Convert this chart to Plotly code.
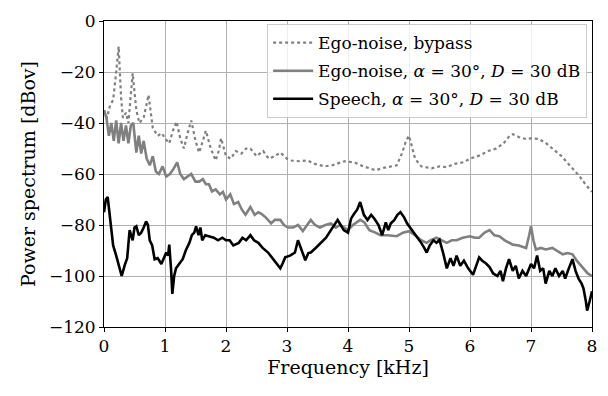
import plotly.graph_objects as go

# ---- data ----
bypass_f = [0, 0.05, 0.1, 0.15, 0.2, 0.24, 0.28, 0.31, 0.36, 0.4, 0.47, 0.53, 0.58, 0.65, 0.73, 0.8,
            0.88, 0.95, 1.0, 1.07, 1.13, 1.19, 1.25, 1.31, 1.37, 1.43, 1.5, 1.56, 1.62, 1.67, 1.75,
            1.83, 1.88, 1.92, 2.0, 2.08, 2.16, 2.25, 2.33, 2.4, 2.5, 2.61, 2.7, 2.8, 2.89, 3.0, 3.07,
            3.2, 3.34, 3.45, 3.62, 3.75, 3.94, 4.1, 4.25, 4.45, 4.6, 4.8, 4.89, 4.95, 5.0, 5.05, 5.1,
            5.2, 5.37, 5.5, 5.62, 5.75, 5.89, 6.0, 6.15, 6.3, 6.43, 6.55, 6.65, 6.7, 6.8, 6.92, 7.0,
            7.13, 7.25, 7.35, 7.5, 7.68, 7.8, 7.89, 8.0]
bypass_db = [-35, -38, -33, -31, -20, -10, -30, -38, -36, -40, -20.5, -35, -40, -38, -29, -42,
             -45, -44, -46, -48, -43, -39.5, -46, -50, -44, -39, -47, -51.6, -47, -43, -50,
             -54.7, -51, -46, -53, -54, -51, -52, -50, -50, -53, -51, -54, -53, -51.6, -54, -54.7,
             -55, -54.7, -56, -57, -56.5, -55, -55.4, -57, -58.5, -57.5, -56.6, -51.6, -47, -45, -49, -54,
             -57, -57.8, -57, -57.3, -56, -55.4, -54, -52.8, -51, -50, -48, -45, -44.4, -45.5, -46.3, -46,
             -46.3, -48, -50, -53, -57.8, -61, -64, -67]

ego_f = [0, 0.04, 0.08, 0.12, 0.16, 0.2, 0.24, 0.28, 0.32, 0.36, 0.4, 0.44, 0.48, 0.53, 0.57, 0.61,
         0.65, 0.7, 0.75, 0.8, 0.85, 0.9, 0.96, 1.02, 1.08, 1.14, 1.2, 1.25, 1.31, 1.37, 1.43, 1.5,
         1.56, 1.62, 1.67, 1.72, 1.77, 1.83, 1.9, 1.95, 2.0, 2.07, 2.13, 2.2, 2.26, 2.32, 2.4, 2.47,
         2.53, 2.58, 2.65, 2.74, 2.8, 2.89, 2.95, 3.02, 3.1, 3.18, 3.26, 3.33, 3.39, 3.46, 3.54, 3.63,
         3.72, 3.8, 3.87, 3.94, 4.0, 4.08, 4.14, 4.2, 4.27, 4.35, 4.45, 4.53, 4.65, 4.8, 4.9, 5.0,
         5.1, 5.2, 5.29, 5.35, 5.45, 5.55, 5.62, 5.7, 5.78, 5.88, 6.0, 6.08, 6.15, 6.24, 6.32, 6.4,
         6.48, 6.57, 6.7, 6.8, 6.92, 6.97, 7.0, 7.04, 7.08, 7.16, 7.24, 7.35, 7.45, 7.52, 7.6, 7.68,
         7.75, 7.85, 7.93, 8.0]
ego_db = [-35, -38, -45, -40, -47, -39, -48, -40, -47, -41, -48, -41, -40, -51.6, -45, -52,
          -47, -54, -56.6, -53, -59, -60, -57, -61, -60, -58, -55.4, -60, -62, -61, -60, -63,
          -63, -62, -64, -64, -66.8, -66, -68, -67, -70, -68, -71.8, -71, -74, -76, -73, -76,
          -75, -75.6, -77, -79.4, -78, -78, -80, -81, -81, -80, -82.4, -80, -78, -80, -81, -80,
          -79.4, -81, -80, -81, -82, -80, -79, -78, -79, -82, -83, -84, -84, -84.4, -83, -82.4,
          -84, -86, -87, -86, -85, -86, -87, -86, -86, -85, -84.4, -85, -85, -83, -82, -84,
          -84.4, -86, -87.7, -88, -89, -84, -80.5, -86, -89.6, -89, -89.6, -89, -90.5, -91.5, -91, -91.5,
          -94, -97, -99, -100]

speech_f = [0, 0.03, 0.06, 0.1, 0.15, 0.2, 0.25, 0.29, 0.34, 0.38, 0.42, 0.45, 0.47, 0.5, 0.53, 0.57,
            0.61, 0.65, 0.69, 0.72, 0.75, 0.79, 0.83, 0.88, 0.94, 0.98, 1.02, 1.05, 1.07, 1.1, 1.12,
            1.15, 1.18, 1.24, 1.29, 1.34, 1.4, 1.44, 1.48, 1.51, 1.55, 1.58, 1.61, 1.66, 1.72, 1.8,
            1.87, 1.94, 2.0, 2.06, 2.12, 2.21, 2.27, 2.33, 2.4, 2.46, 2.53, 2.6, 2.69, 2.76, 2.83,
            2.89, 2.93, 2.97, 3.05, 3.13, 3.18, 3.23, 3.3, 3.35, 3.39, 3.47, 3.56, 3.64, 3.72, 3.78,
            3.83, 3.88, 3.93, 4.0, 4.05, 4.1, 4.15, 4.2, 4.26, 4.32, 4.38, 4.43, 4.5, 4.56, 4.62,
            4.66, 4.7, 4.76, 4.81, 4.86, 4.92, 4.97, 5.05, 5.13, 5.2, 5.25, 5.29, 5.34, 5.4, 5.45,
            5.5, 5.56, 5.62, 5.68, 5.73, 5.78, 5.84, 5.9, 5.97, 6.05, 6.1, 6.15, 6.2, 6.26, 6.32,
            6.38, 6.45, 6.5, 6.54, 6.59, 6.64, 6.7, 6.75, 6.8, 6.86, 6.92, 7.0, 7.05, 7.1, 7.15,
            7.2, 7.24, 7.3, 7.35, 7.4, 7.46, 7.52, 7.56, 7.62, 7.68, 7.73, 7.78, 7.83, 7.86, 7.9,
            7.92, 7.96, 8.0]
speech_db = [-75, -70, -69, -78, -88, -92, -96, -100, -95.7, -93, -82, -84, -86, -81, -80.5, -84,
             -83, -81, -78.6, -80, -86, -88, -93.4, -93, -95.3, -93, -90.8, -92, -87.7, -97.6, -107,
             -100, -97, -95, -93.4, -90, -87, -84, -83, -80.5, -84, -81, -86, -84, -84.4, -85,
             -86, -85, -86, -86, -88, -87, -85, -86, -84, -86, -87, -89, -90.8, -93, -95,
             -97, -95, -92.7, -92, -90.8, -86, -89, -93.8, -91, -90.8, -89, -87, -85, -82, -80,
             -78, -80, -82, -83, -77.5, -75.6, -74, -71, -76, -78, -76, -77.5, -80, -84, -79,
             -82, -79.4, -78, -76, -75, -77, -79.4, -82, -85, -87, -89, -90.8, -88, -86, -87,
             -85.8, -91, -97, -93, -96, -92, -96, -94, -97, -99.5, -96, -92.7, -94, -95, -96.5,
             -99, -100, -98, -102, -97, -93.4, -98, -96, -101, -98, -100, -95.3, -97, -92, -98,
             -97, -103, -98, -100, -97, -100, -98, -101, -97, -93.4, -98, -101, -103, -104.8, -110,
             -113.6, -110, -106]

series_names = ["Ego-noise, bypass",
                "Ego-noise, <i>α</i> = 30°, <i>D</i> = 30 dB",
                "Speech, <i>α</i> = 30°, <i>D</i> = 30 dB"]
x_ticks = [0, 1, 2, 3, 4, 5, 6, 7, 8]
y_ticks = [-120, -100, -80, -60, -40, -20, 0]

FONT = "DejaVu Serif"

fig = go.Figure()
fig.add_trace(go.Scatter(x=bypass_f, y=bypass_db, mode="lines", name=series_names[0],
                         legendgroup="a",
                         line=dict(color="#808080", width=2.2, dash="dot")))
fig.add_trace(go.Scatter(x=ego_f, y=ego_db, mode="lines", name=series_names[1],
                         legendgroup="b",
                         line=dict(color="#808080", width=2.6)))
fig.add_trace(go.Scatter(x=speech_f, y=speech_db, mode="lines", name=series_names[2],
                         legendgroup="c",
                         line=dict(color="#000000", width=2.6)))

axis_common = dict(showgrid=True, gridcolor="#b0b0b0", gridwidth=1,
                   showline=True, linecolor="black", linewidth=1, mirror=True,
                   ticks="outside", ticklen=4, tickcolor="black",
                   zeroline=False, tickfont=dict(family=FONT, size=17, color="black"))

fig.update_layout(
    width=608, height=396,
    margin=dict(l=104, r=11, t=11, b=69),
    paper_bgcolor="white", plot_bgcolor="white",
    font=dict(family=FONT, color="black"),
    showlegend=True,
    legend=dict(x=0.99, y=0.99, xanchor="right", yanchor="top",
                bgcolor="rgba(255,255,255,0.8)", bordercolor="#cccccc", borderwidth=1,
                font=dict(family=FONT, size=17, color="black"),
                tracegroupgap=3, itemwidth=40),
    xaxis=dict(range=[0, 8], tickvals=x_ticks,
               title=dict(text="Frequency [kHz]", font=dict(family=FONT, size=19), standoff=4),
               **axis_common),
    yaxis=dict(range=[-120, 0], tickvals=y_ticks,
               title=dict(text="Power spectrum [dBov]", font=dict(family=FONT, size=19), standoff=8),
               **axis_common),
)

fig.write_html("out.html")
